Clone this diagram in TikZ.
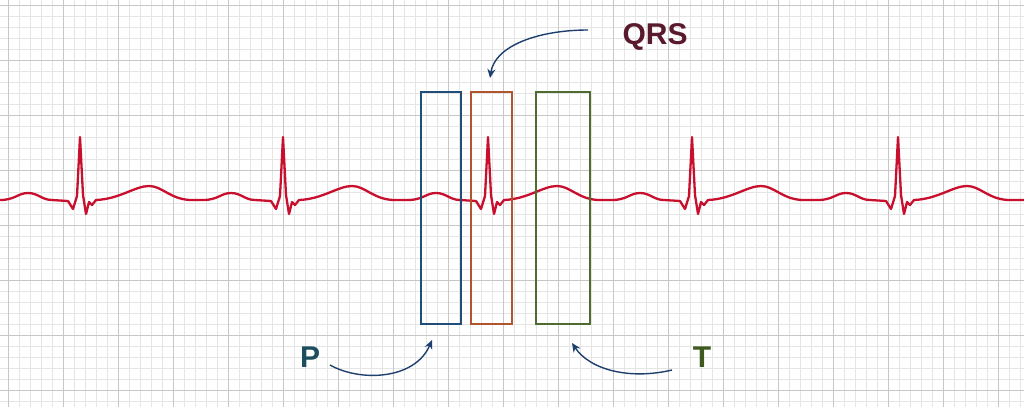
\documentclass[tikz,border=0pt]{standalone}
\usepackage{fontspec}
\setmainfont{Liberation Sans}
\usetikzlibrary{arrows.meta}
\definecolor{ecg}{HTML}{C8102E}
\definecolor{pblue}{HTML}{1F4E79}
\definecolor{qorange}{HTML}{B0552E}
\definecolor{tgreen}{HTML}{4F6B2F}
\definecolor{qrslbl}{HTML}{5A1A2E}
\definecolor{plbl}{HTML}{1D4E5E}
\definecolor{tlbl}{HTML}{3F5A1E}
\definecolor{arr}{HTML}{1F3F6E}
\begin{document}
\begin{tikzpicture}[x=1pt,y=-1pt,
  wbox/.style={draw=#1,line width=1.5pt},
  lbl/.style={font=\bfseries\fontsize{30}{30}\selectfont,inner sep=0pt},
  curvarr/.style={draw=arr,line width=1.4pt,-{Stealth[length=9pt,width=8pt]}}]
\useasboundingbox (0,0) rectangle (1024,407);
\fill[white] (0,0) rectangle (1024,407);
\foreach \i in {0,...,93} \draw[black!10,line width=0.5pt] ({8+11*(\i-1)},0) -- ({8+11*(\i-1)},407);
\foreach \i in {0,...,37} \draw[black!10,line width=0.5pt] (0,{5+11*\i}) -- (1024,{5+11*\i});
\foreach \i in {0,...,18} \draw[black!22,line width=0.9pt] ({8+55*\i},0) -- ({8+55*\i},407);
\foreach \i in {0,...,7} \draw[black!22,line width=0.9pt] (0,{5+55*\i}) -- (1024,{5+55*\i});
% ECG trace
\draw[ecg,line width=2.3pt,line join=round] (0,200)
\foreach \r in {80,283,488,692,898}{
 -- ({\r-80},200)
 .. controls ({\r-65},200) and ({\r-62},193) .. ({\r-52},193)
 .. controls ({\r-42},193) and ({\r-38},200) .. ({\r-28},200)
 -- ({\r-12},201) -- ({\r-7},209) -- ({\r-3},196) -- (\r,137) -- ({\r+3},195) -- ({\r+6},214) -- ({\r+9},202) -- ({\r+12},205) -- ({\r+16},200)
 .. controls ({\r+40},199) and ({\r+55},186) .. ({\r+69},186)
 .. controls ({\r+82},186) and ({\r+90},199) .. ({\r+110},200)
} -- (1024,200);
% boxes
\node[wbox=pblue,minimum width=40pt,minimum height=232pt,inner sep=0pt] (pbox) at (441,208) {};
\node[wbox=qorange,minimum width=41pt,minimum height=232pt,inner sep=0pt] (qbox) at (491.5,208) {};
\node[wbox=tgreen,minimum width=54pt,minimum height=232pt,inner sep=0pt] (tbox) at (563,208) {};
% labels
\node[lbl,text=qrslbl] (qrs) at (655,37) {QRS};
\node[lbl,text=plbl] (p) at (310,357) {P};
\node[lbl,text=tlbl] (t) at (702,357) {T};
\coordinate (qs) at (588,30); \coordinate (qe) at (490,78);
\coordinate (ps) at (330,365); \coordinate (pe) at (432,340);
\coordinate (ts) at (672,370); \coordinate (te) at (572,343);
\draw[curvarr] (qs) .. controls (540,30) and (495,45) .. (qe);
\draw[curvarr] (ps) .. controls (360,382) and (415,380) .. (pe);
\draw[curvarr] (ts) .. controls (630,380) and (590,370) .. (te);
\end{tikzpicture}
\end{document}
